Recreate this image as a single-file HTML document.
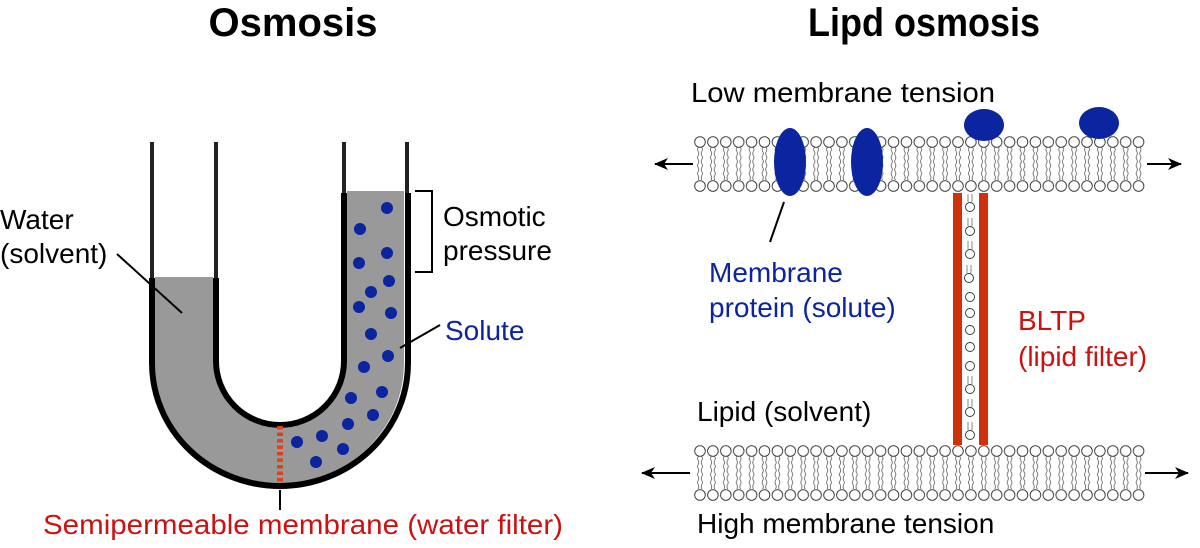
<!DOCTYPE html>
<html><head><meta charset="utf-8"><style>
html,body{margin:0;padding:0;background:#fff;}
svg{display:block;}
text{font-family:"Liberation Sans",Arial,sans-serif;}
</style></head><body>
<svg width="1200" height="548" viewBox="0 0 1200 548" xmlns="http://www.w3.org/2000/svg">
<defs>
<pattern id="lip" x="693.6" y="136" width="12.9" height="56" patternUnits="userSpaceOnUse">
<circle cx="6.4" cy="6" r="5.3" fill="#fff" stroke="#333" stroke-width="0.9"/>
<circle cx="6.4" cy="50" r="5.3" fill="#fff" stroke="#333" stroke-width="0.9"/>
<path d="M4.6 11.5 q-1.2 2 0 4 t0 4 t0 4 t0 4 t0 4 t0 4 t0 4 t0 4.5 M8.2 11.5 q1.2 2 0 4 t0 4 t0 4 t0 4 t0 4 t0 4 t0 4 t0 4.5" fill="none" stroke="#444" stroke-width="0.7"/>
</pattern>
<pattern id="lip2" x="693.6" y="445" width="12.9" height="56" patternUnits="userSpaceOnUse">
<circle cx="6.4" cy="6" r="5.3" fill="#fff" stroke="#333" stroke-width="0.9"/>
<circle cx="6.4" cy="50" r="5.3" fill="#fff" stroke="#333" stroke-width="0.9"/>
<path d="M4.6 11.5 q-1.2 2 0 4 t0 4 t0 4 t0 4 t0 4 t0 4 t0 4 t0 4.5 M8.2 11.5 q1.2 2 0 4 t0 4 t0 4 t0 4 t0 4 t0 4 t0 4 t0 4.5" fill="none" stroke="#444" stroke-width="0.7"/>
</pattern>
<marker id="ar" viewBox="0 0 14 12" refX="13" refY="6" markerWidth="14" markerHeight="12" markerUnits="userSpaceOnUse" orient="auto">
<path d="M0 0 L14 6 L0 12 L4 6 Z" fill="#000"/>
</marker>
</defs>

<text x="293" y="36" font-size="40" font-weight="bold" text-anchor="middle">Osmosis</text>
<text x="808" y="36" font-size="40" font-weight="bold" textLength="232" lengthAdjust="spacingAndGlyphs">Lipd osmosis</text>

<path d="M155 277 L213 277 L213 361 A67 67 0 0 0 347 361 L347 191 L404 191 L404 363 A124 120 0 0 1 155 363 Z" fill="#999"/>
<g stroke="#222" stroke-width="4" fill="none">
<line x1="152" y1="142" x2="152" y2="280"/>
<line x1="216" y1="142" x2="216" y2="280"/>
<line x1="344" y1="142" x2="344" y2="195"/>
<line x1="407" y1="142" x2="407" y2="195"/>
</g>
<g stroke="#000" stroke-width="6" fill="none">
<path d="M152 278 L152 363 A128 123 0 0 0 408 363 L408 193"/>
<path d="M216 278 L216 361 A64 64 0 0 0 344 361 L344 193"/>
</g>
<line x1="280" y1="426" x2="280" y2="482" stroke="#d9441c" stroke-width="6" stroke-dasharray="3.5 3"/>
<g fill="#0b24a0">
<circle cx="387" cy="208" r="6"/><circle cx="360" cy="229" r="6"/><circle cx="387" cy="253" r="6"/>
<circle cx="359" cy="263" r="6"/><circle cx="389" cy="281" r="6"/><circle cx="371" cy="292" r="6"/>
<circle cx="359" cy="307" r="6"/><circle cx="391" cy="313" r="6"/><circle cx="371" cy="334" r="6"/>
<circle cx="388" cy="356" r="6"/><circle cx="364" cy="367" r="6"/><circle cx="382" cy="392" r="6"/>
<circle cx="351" cy="398" r="6"/><circle cx="373" cy="415" r="6"/><circle cx="348" cy="424" r="6"/>
<circle cx="322" cy="436" r="6"/><circle cx="297" cy="442" r="6"/><circle cx="343" cy="449" r="6"/>
<circle cx="316" cy="462" r="6"/>
</g>
<g stroke="#000" stroke-width="2" fill="none">
<line x1="117" y1="254" x2="182" y2="313"/>
<line x1="440" y1="325" x2="400" y2="348"/>
<line x1="280" y1="490" x2="280" y2="510"/>
<path d="M415 191 L432 191 L432 272 L415 272"/>
<line x1="784" y1="202" x2="770" y2="242"/>
</g>
<text x="0" y="229" font-size="28">Water</text>
<text x="0" y="263" font-size="28">(solvent)</text>
<text x="443" y="226" font-size="28">Osmotic</text>
<text x="443" y="260" font-size="28">pressure</text>
<text x="445" y="340" font-size="28" fill="#0b24a0">Solute</text>
<text x="43" y="534" font-size="28" fill="#cc1111" textLength="520" lengthAdjust="spacingAndGlyphs">Semipermeable membrane (water filter)</text>

<rect x="693.6" y="136" width="451.5" height="56" fill="url(#lip)"/>
<rect x="693.6" y="445" width="451.5" height="56" fill="url(#lip2)"/>
<rect x="953" y="193" width="9" height="252" fill="#d1300c"/>
<rect x="979" y="193" width="9" height="252" fill="#d1300c"/>
<g fill="#fff" stroke="#333" stroke-width="0.9">
<circle cx="970" cy="207" r="4.5"/><circle cx="970" cy="231" r="4.5"/><circle cx="970" cy="254" r="4.5"/>
<circle cx="969" cy="278" r="4.5"/><circle cx="970" cy="297" r="4.5"/><circle cx="970" cy="313" r="4.5"/>
<circle cx="970" cy="330" r="4.5"/><circle cx="970" cy="347" r="4.5"/><circle cx="970" cy="366" r="4.5"/>
<circle cx="970" cy="389" r="4.5"/><circle cx="970" cy="412" r="4.5"/><circle cx="970" cy="435" r="4.5"/>
</g>
<g stroke="#555" stroke-width="0.7" fill="none">
<path d="M968 194 v8 M972 194 v8 M968 218 v8 M972 218 v8 M968 241 v8 M972 241 v8 M967 265 v8 M971 265 v8 M968 376 v8 M972 376 v8 M968 399 v8 M972 399 v8 M968 422 v8 M972 422 v8"/>
</g>
<g fill="#0b24a0">
<ellipse cx="790" cy="162" rx="16" ry="34"/>
<ellipse cx="867" cy="162" rx="16" ry="34"/>
<ellipse cx="984" cy="125" rx="20" ry="16"/>
<ellipse cx="1099" cy="123" rx="20" ry="16"/>
</g>
<g stroke="#000" stroke-width="2">
<line x1="693" y1="164" x2="655" y2="164" marker-end="url(#ar)"/>
<line x1="1147" y1="164" x2="1181" y2="164" marker-end="url(#ar)"/>
<line x1="690" y1="473" x2="642" y2="473" marker-end="url(#ar)"/>
<line x1="1145" y1="473" x2="1188" y2="473" marker-end="url(#ar)"/>
</g>
<text x="691" y="102" font-size="28" textLength="304" lengthAdjust="spacingAndGlyphs">Low membrane tension</text>
<text x="709" y="282" font-size="28" fill="#0b24a0">Membrane</text>
<text x="709" y="317" font-size="28" fill="#0b24a0">protein (solute)</text>
<text x="1018" y="330" font-size="28" fill="#cc1111">BLTP</text>
<text x="1018" y="366" font-size="28" fill="#cc1111">(lipid filter)</text>
<text x="697" y="421" font-size="28">Lipid (solvent)</text>
<text x="697" y="533" font-size="28">High membrane tension</text>
</svg>
</body></html>
